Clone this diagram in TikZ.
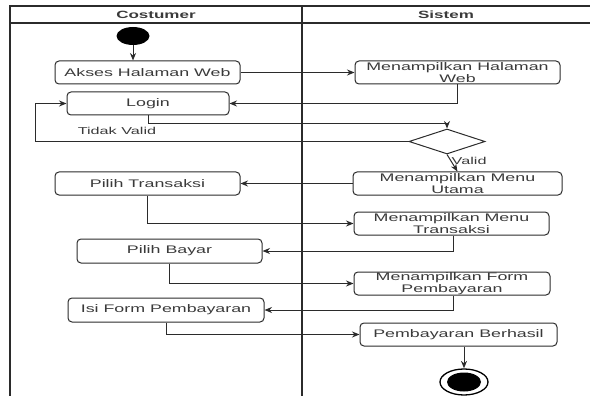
\documentclass[tikz,border=0pt]{standalone}
\usepackage{fontspec}
\setmainfont{Liberation Sans}[FakeStretch=1.62]
\usetikzlibrary{arrows.meta,shapes.geometric,calc}
\definecolor{ink}{HTML}{2B2B2B}
\definecolor{txt}{HTML}{3A3A3A}
\begin{document}
\begin{tikzpicture}[x=1pt,y=-1pt,
  lane/.style={draw=ink,line width=1.4pt},
  act/.style={draw=ink,line width=1pt,rounded corners=4pt,text=txt,
    font=\fontsize{11}{12}\selectfont,align=center,inner sep=0pt},
  flow/.style={draw=ink,line width=1pt,-{Stealth[length=7.5pt,width=6pt]}},
  lbl/.style={text=txt,font=\fontsize{10}{11}\selectfont,inner sep=0pt},
  head/.style={text=txt,font=\fontsize{10.5}{12}\selectfont\bfseries,inner sep=0pt}]
\useasboundingbox (0,0) rectangle (590,396);

% swimlanes
\draw[lane] (10,396) -- (10,6) -- (592,6);
\draw[lane] (10,23) -- (592,23);
\draw[lane] (302,6) -- (302,396);
\node[head] (hc) at (156,14.5) {Costumer};
\node[head] (hs) at (446,14.5) {Sistem};

% start and end
\node[ellipse,fill=black,minimum width=33pt,minimum height=18pt,inner sep=0pt] (start) at (133,36) {};
\node[ellipse,draw=black,line width=1.3pt,fill=white,minimum width=48pt,minimum height=26pt,inner sep=0pt] (end) at (464,382) {};
\node[ellipse,fill=black,minimum width=34pt,minimum height=19pt,inner sep=0pt] (endin) at (464,382) {};

% activities
\node[act,minimum width=185pt,minimum height=23pt] (akses) at (147.5,72.5) {Akses Halaman Web};
\node[act,minimum width=205pt,minimum height=23pt] (mhw) at (457.5,72.5) {Menampilkan Halaman\\Web};
\node[act,minimum width=162pt,minimum height=23pt] (login) at (148,103.5) {Login};
\node[diamond,draw=ink,line width=1pt,minimum width=76pt,minimum height=25pt,inner sep=0pt] (dia) at (447,141.5) {};
\node[act,minimum width=209pt,minimum height=23pt] (mmu) at (457.5,183.5) {Menampilkan Menu\\Utama};
\node[act,minimum width=185pt,minimum height=23pt] (pt) at (147.5,183.5) {Pilih Transaksi};
\node[act,minimum width=195pt,minimum height=23pt] (mmt) at (451.5,223.5) {Menampilkan Menu\\Transaksi};
\node[act,minimum width=185pt,minimum height=24pt] (pb) at (169.5,251) {Pilih Bayar};
\node[act,minimum width=196pt,minimum height=23pt] (mfp) at (452,283.5) {Menampilkan Form\\Pembayaran};
\node[act,minimum width=196pt,minimum height=24pt] (isi) at (166,310) {Isi Form Pembayaran};
\node[act,minimum width=197pt,minimum height=23pt] (pbh) at (458.5,334.5) {Pembayaran Berhasil};

% flows
\draw[flow] (start) -- (start |- akses.north);
\draw[flow] (akses.east) -- (mhw.west);
\draw[flow] (mhw.south) |- (login.east);
\draw[flow] (login.south) -- ++(0,8) -| (dia.north);
\draw[flow] (dia.west) -| ($(login.west)+(-31,0)$) -- (login.west);
\node[lbl] (tv) at (117,131) {Tidak Valid};
\draw[flow] (dia.south) -- (mmu.north);
\node[lbl,anchor=west] (valid) at (451.5,161) {Valid};
\draw[flow] (mmu.west) -- (pt.east);
\draw[flow] (pt.south) |- (mmt.west);
\draw[flow] ($(mmt.south)+(1.5,0)$) |- (pb.east);
\draw[flow] (pb.south) |- (mfp.west);
\draw[flow] ($(mfp.south)+(1,0)$) |- (isi.east);
\draw[flow] (isi.south) |- (pbh.west);
\draw[flow] (end |- pbh.south) -- (end.north);
\end{tikzpicture}
\end{document}
